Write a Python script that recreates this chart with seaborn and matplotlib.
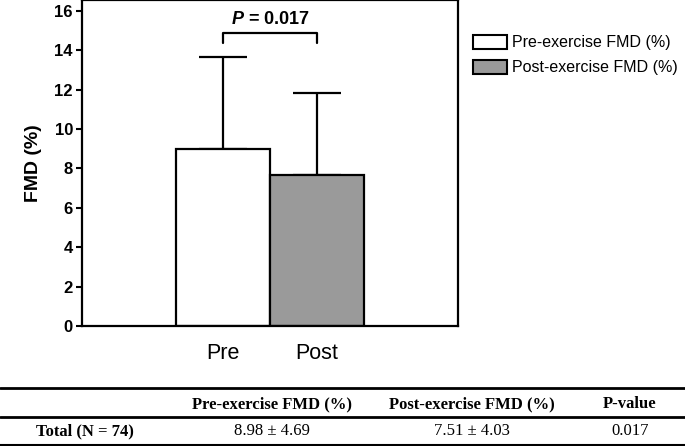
import numpy as np
import pandas as pd
import seaborn as sns
import matplotlib.pyplot as plt
from matplotlib.patches import Patch
from matplotlib.lines import Line2D

# values
groups = ["Pre", "Post"]
fmd_mean = [8.98, 7.65]
fmd_sd = [4.69, 4.18]
bar_colors = ["#ffffff", "#9a9a9a"]
legend_labels = ["Pre-exercise FMD (%)", "Post-exercise FMD (%)"]
p_text = "0.017"

# table below the chart
table_header = ["", "Pre-exercise FMD (%)", "Post-exercise FMD (%)", "P-value"]
table_row = ["Total (N = 74)", "8.98 \u00b1 4.69", "7.51 \u00b1 4.03", "0.017"]

sns.set_style("ticks")
plt.rcParams["font.family"] = ["Liberation Sans", "DejaVu Sans"]
plt.rcParams["mathtext.fontset"] = "custom"
plt.rcParams["mathtext.bfit"] = "Liberation Sans:bold:italic"
plt.rcParams["mathtext.bf"] = "Liberation Sans:bold"
for k in ["text.color", "axes.labelcolor", "xtick.color", "ytick.color", "axes.edgecolor"]:
    plt.rcParams[k] = "black"

df = pd.DataFrame({"group": groups, "fmd": fmd_mean})

fig = plt.figure(figsize=(6.85, 4.46), dpi=100)
ax = fig.add_axes([82 / 685, 120 / 446, 376 / 685, 326 / 446])

sns.barplot(data=df, x="group", y="fmd", hue="group", palette=bar_colors,
            width=1.0, edgecolor="black", linewidth=1.6, legend=False, ax=ax,
            errorbar=None, zorder=2)
xs = np.arange(len(groups))
ax.errorbar(xs, fmd_mean, yerr=[np.zeros(len(groups)), fmd_sd], fmt="none",
            ecolor="black", elinewidth=1.6, capsize=17, capthick=1.6, zorder=1)

# significance bracket
tops = np.array(fmd_mean) + np.array(fmd_sd)
y0 = tops.max() + 0.68
y1 = y0 + 0.52
ax.plot([xs[0], xs[0], xs[1], xs[1]], [y0, y1, y1, y0], color="black", lw=1.6)
ax.text((xs[0] + xs[1]) / 2, y1 + 0.25, r"$\mathbfit{P}$" + " = " + p_text,
        ha="center", va="bottom", fontsize=13, fontweight="bold")

ax.set_xlim(-1.5, 2.5)
ax.set_ylim(0, 16.55)
ax.set_yticks(np.arange(0, 17, 2))
ax.set_xlabel("")
ax.set_ylabel("FMD (%)", fontsize=14, fontweight="bold", labelpad=9)
ax.tick_params(axis="x", length=0, pad=12, labelsize=15.5)
ax.tick_params(axis="y", length=4.5, width=1.5, pad=2, labelsize=12)
for lab in ax.get_yticklabels():
    lab.set_fontweight("bold")
for sp in ax.spines.values():
    sp.set_linewidth(1.6)
    sp.set_visible(True)

handles = [Patch(facecolor=c, edgecolor="black", linewidth=1.5) for c in bar_colors]
fig.legend(handles, legend_labels, loc="upper left", bbox_to_anchor=(473 / 685, 1 - 35 / 446),
           frameon=False, fontsize=11.5, handlelength=2.1, handleheight=0.95,
           handletextpad=0.35, labelspacing=0.6, borderpad=0, borderaxespad=0)

# table
serif = ["Liberation Serif", "DejaVu Serif"]
col_x = [85, 272, 472, 630]
for yy, lw in [(388, 2.0), (417, 2.0), (445, 1.5)]:
    fig.add_artist(Line2D([0, 1], [1 - yy / 446] * 2, color="black", lw=lw,
                          transform=fig.transFigure))
for x, h in zip(col_x, table_header):
    fig.text(x / 685, 1 - 404 / 446, h, ha="center", va="center",
             family=serif, fontsize=12, fontweight="bold")
for i, (x, v) in enumerate(zip(col_x, table_row)):
    fig.text(x / 685, 1 - 431 / 446, v, ha="center", va="center", family=serif,
             fontsize=12, fontweight="bold" if i == 0 else "normal")

fig.savefig("out.png", dpi=100)
